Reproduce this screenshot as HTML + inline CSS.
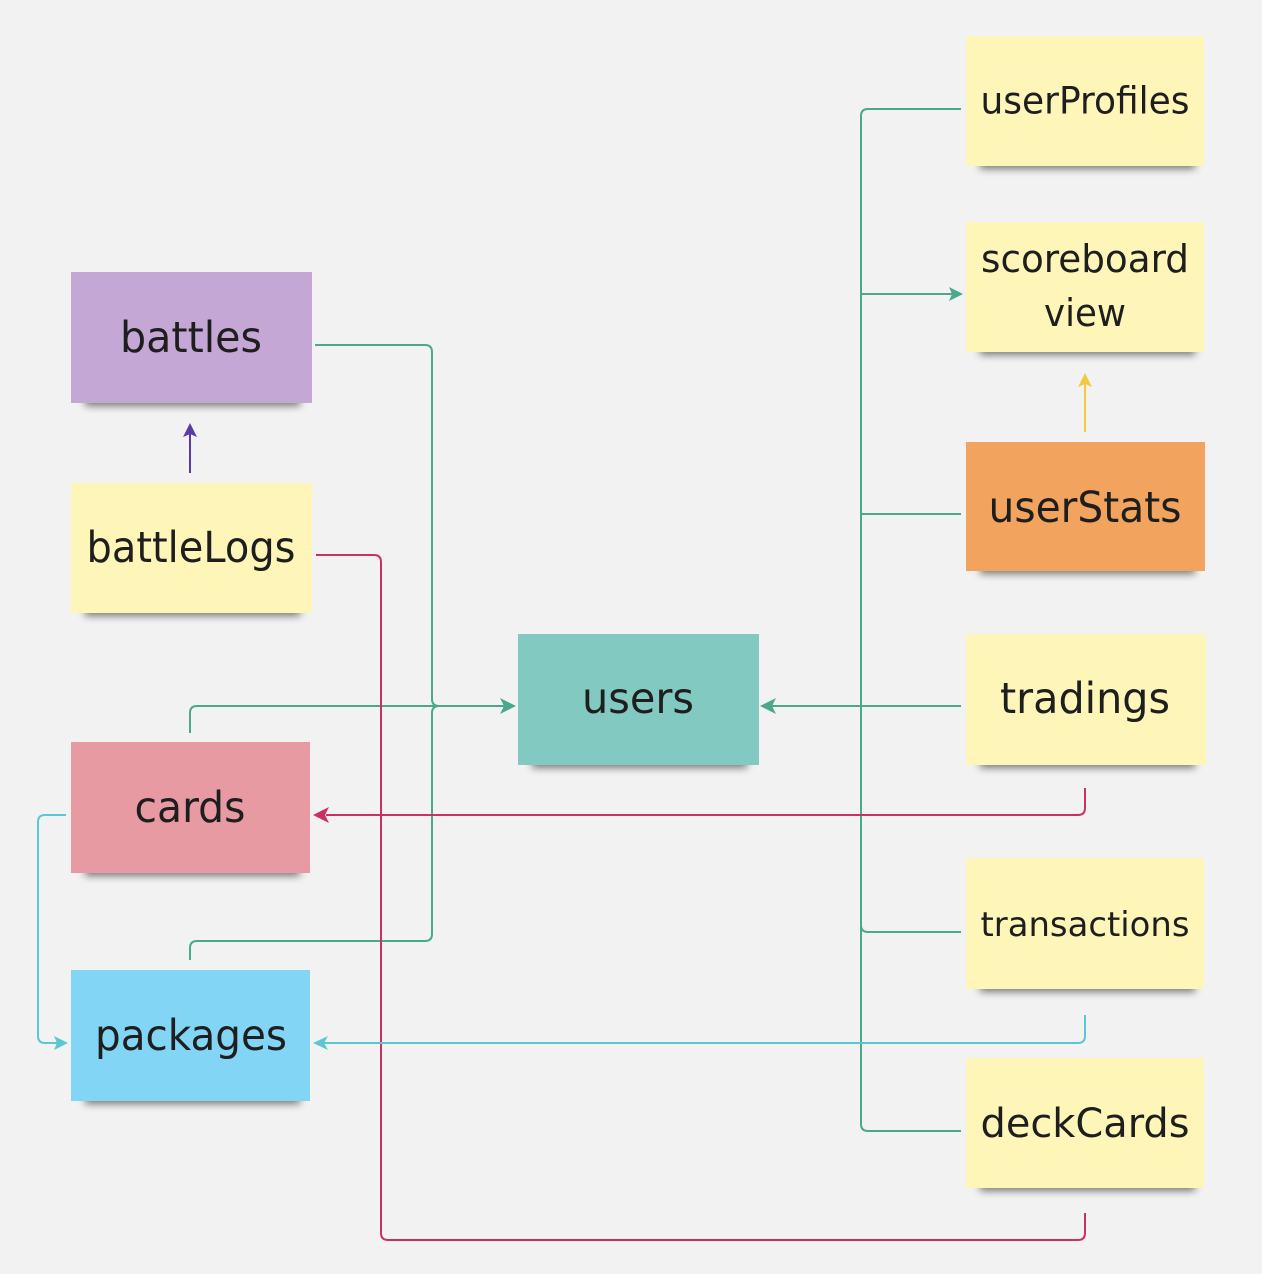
<!DOCTYPE html>
<html><head><meta charset="utf-8"><style>
html,body{margin:0;padding:0;background:#f2f2f2;}
svg{display:block;}
text{font-family:"DejaVu Sans","Liberation Sans",sans-serif;fill:#1e1e1e;}
</style></head><body>
<svg width="1262" height="1274" viewBox="0 0 1262 1274" xmlns="http://www.w3.org/2000/svg">
<defs>
<filter id="sh" x="-20%" y="-20%" width="140%" height="160%"><feGaussianBlur stdDeviation="4"/></filter>
</defs>
<rect width="1262" height="1274" fill="#f2f2f2"/>
<g fill="#000" opacity="0.5" filter="url(#sh)">
<rect x="85" y="392" width="215" height="14"/>
<rect x="85" y="602" width="215" height="14"/>
<rect x="85" y="862" width="215" height="14"/>
<rect x="85" y="1090" width="215" height="14"/>
<rect x="532" y="754" width="215" height="14"/>
<rect x="980" y="155" width="215" height="14"/>
<rect x="980" y="341" width="215" height="14"/>
<rect x="980" y="560" width="215" height="14"/>
<rect x="980" y="754" width="215" height="14"/>
<rect x="980" y="978" width="215" height="14"/>
<rect x="980" y="1177" width="215" height="14"/>
</g>
<rect x="71" y="272" width="241" height="131" fill="#c4a7d5"/>
<rect x="71" y="483" width="241" height="130" fill="#fef6b8"/>
<rect x="71" y="742" width="239" height="131" fill="#e79aa2"/>
<rect x="71" y="970" width="239" height="131" fill="#82d5f5"/>
<rect x="518" y="634" width="241" height="131" fill="#82c9c1"/>
<rect x="966" y="36" width="238" height="130" fill="#fef6b8"/>
<rect x="966" y="222" width="238" height="130" fill="#fef6b8"/>
<rect x="966" y="442" width="239" height="129" fill="#f2a45e"/>
<rect x="966" y="634" width="240" height="131" fill="#fef6b8"/>
<rect x="966" y="858" width="238" height="131" fill="#fef6b8"/>
<rect x="966" y="1058" width="238" height="130" fill="#fef6b8"/>
<g fill="none" stroke-width="2" stroke-linejoin="round">
<g stroke="#4aa88c">
<path d="M315 345 H425 Q432 345 432 352 V699 Q432 706 439 706 H506"/>
<path d="M190 733 V713 Q190 706 197 706 H506"/>
<path d="M190 960 V948 Q190 941 197 941 H425 Q432 941 432 934 V713 Q432 706 439 706"/>
<path d="M961 109 H868 Q861 109 861 116 V1124 Q861 1131 868 1131 H961"/>
<path d="M861 294 H952"/>
<path d="M961 514 H861"/>
<path d="M961 706 H772"/>
<path d="M961 932 H868 Q861 932 861 925"/>
</g>
<path stroke="#cc2f68" d="M316 555 H374 Q381 555 381 562 V1233 Q381 1240 388 1240 H1078 Q1085 1240 1085 1233 V1213"/>
<path stroke="#cc2f68" d="M1085 788 V808 Q1085 815 1078 815 H326"/>
<path stroke="#5ac8d4" d="M66 815 H45 Q38 815 38 822 V1036 Q38 1043 45 1043 H58"/>
<path stroke="#5ac8d4" d="M1085 1015 V1036 Q1085 1043 1078 1043 H324"/>
<path stroke="#5b3aa8" d="M190 473 V434"/>
<path stroke="#f5c842" d="M1085 432 V384"/>
</g>
<path d="M516 706 L500 698 L504 706 L500 714 Z" fill="#4aa88c"/>
<path d="M760 706 L776 698 L772 706 L776 714 Z" fill="#4aa88c"/>
<path d="M963 294 L949 287 L952 294 L949 301 Z" fill="#4aa88c"/>
<path d="M313 815 L329 807 L325 815 L329 823 Z" fill="#cc2f68"/>
<path d="M313 1043 L328 1036 L324 1043 L328 1050 Z" fill="#5ac8d4"/>
<path d="M68 1043 L54 1036 L57 1043 L54 1050 Z" fill="#5ac8d4"/>
<path d="M190 423 L183 437 L190 434 L197 437 Z" fill="#5b3aa8"/>
<path d="M1085 373 L1078 387 L1085 384 L1092 387 Z" fill="#f5c842"/>
<g dominant-baseline="central" text-anchor="middle" style="font-size:43px">
<text x="191" y="338" textLength="142" lengthAdjust="spacingAndGlyphs">battles</text>
<text x="191" y="548" textLength="209" lengthAdjust="spacingAndGlyphs">battleLogs</text>
<text x="190" y="808" textLength="111" lengthAdjust="spacingAndGlyphs">cards</text>
<text x="191" y="1036" textLength="192" lengthAdjust="spacingAndGlyphs">packages</text>
<text x="638" y="699" textLength="112" lengthAdjust="spacingAndGlyphs">users</text>
<text x="1085" y="508" textLength="193" lengthAdjust="spacingAndGlyphs">userStats</text>
<text x="1085" y="699" textLength="170" lengthAdjust="spacingAndGlyphs">tradings</text>
<text x="1085" y="1124" style="font-size:40px" textLength="209" lengthAdjust="spacingAndGlyphs">deckCards</text>
<text x="1085" y="101" style="font-size:37px" textLength="209" lengthAdjust="spacingAndGlyphs">userProfiles</text>
<text x="1085" y="259" style="font-size:38px" textLength="208" lengthAdjust="spacingAndGlyphs">scoreboard</text>
<text x="1085" y="313" style="font-size:38px" textLength="82" lengthAdjust="spacingAndGlyphs">view</text>
<text x="1085" y="925" style="font-size:34px" textLength="209" lengthAdjust="spacingAndGlyphs">transactions</text>
</g>
</svg>
</body></html>
